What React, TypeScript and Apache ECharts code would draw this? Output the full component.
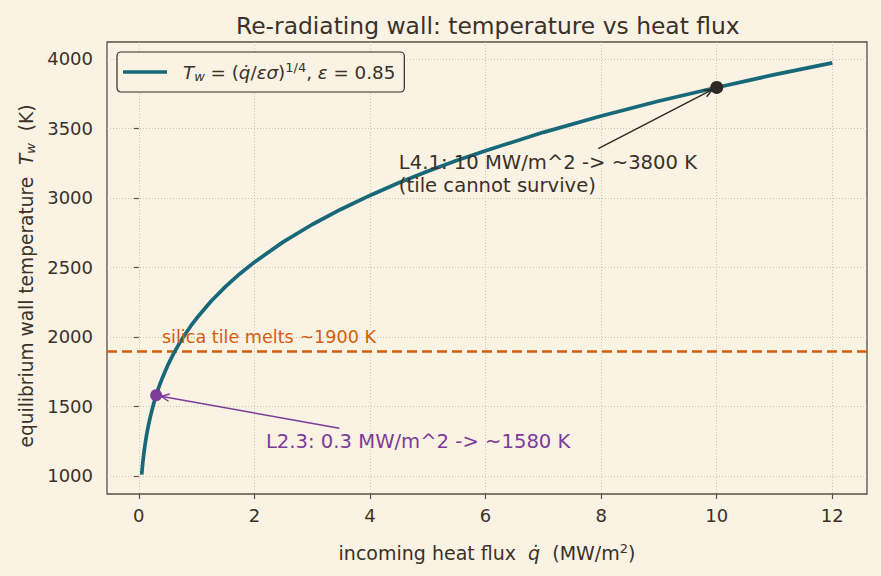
import React, { useEffect, useRef } from "react";
import * as echarts from "echarts";

// heat flux (MW/m^2) and equilibrium wall temperature (K)
const fluxMW = [0.05, 0.06, 0.07, 0.08, 0.09, 0.1, 0.12, 0.14, 0.17, 0.2, 0.25, 0.3, 0.35, 0.4, 0.5, 0.6, 0.7, 0.8, 0.9, 1, 1.25, 1.5, 1.75, 2, 2.5, 3, 3.5, 4, 4.5, 5, 5.5, 6, 7, 8, 9, 10, 11, 12];
const wallTempK = [1009, 1056, 1098, 1135, 1169, 1200, 1256, 1306, 1370, 1427, 1509, 1580, 1642, 1697, 1795, 1878, 1952, 2018, 2079, 2134, 2257, 2362, 2455, 2538, 2684, 2809, 2919, 3018, 3109, 3192, 3269, 3340, 3472, 3589, 3697, 3795, 3887, 3972];

const xTicks = [0, 2, 4, 6, 8, 10, 12];
const yTicks = [1000, 1500, 2000, 2500, 3000, 3500, 4000];

const meltTemp = 1900;
const meltLabel = "silica tile melts ~1900 K";
const meltLabelAt = [0.4, 2000];

const lowPoint = [0.3, 1580];
const lowText = "L2.3: 0.3 MW/m^2 -> ~1580 K";
const lowTextAt = [2.2, 1250];
const lowArrowTail = [3.47, 1343];

const highPoint = [10, 3795];
const highText = "L4.1: 10 MW/m^2 -> ~3800 K\n(tile cannot survive)";
const highTextAt = [4.5, 3172];
const highArrowTail = [7.95, 3355];

const BG = "#faf2e3";
const INK = "#3a3129";
const SPINE = "#5a5045";
const TEAL = "#17697a";
const ORANGE = "#d55e0c";
const PURPLE = "#7d3c98";
const DARK = "#2e2924";
const FONT = "DejaVu Sans";

export default function App() {
  const ref = useRef<HTMLDivElement>(null);
  useEffect(() => {
    const chart = echarts.init(ref.current!, null, { renderer: "svg" });
    const option: any = {
      animation: false,
      backgroundColor: BG,
      textStyle: { fontFamily: FONT, color: INK },
      title: {
        text: "Re-radiating wall: temperature vs heat flux",
        left: 231,
        top: 9,
        textStyle: { fontFamily: FONT, fontSize: 23.4, fontWeight: "normal", color: INK },
      },
      grid: { left: 107, right: 14, top: 42, bottom: 82, show: true, borderColor: SPINE, borderWidth: 1.3, backgroundColor: BG },
      legend: {
        left: 117,
        top: 52,
        padding: [9, 9, 9, 6],
        itemGap: 0,
        itemWidth: 44,
        itemHeight: 14,
        backgroundColor: BG,
        borderColor: DARK,
        borderWidth: 1.2,
        borderRadius: 4,
        data: [{ name: "curve", icon: "path://M0,5.2 L44,5.2 L44,8.9 L0,8.9 Z" }],
        formatter: () => "{i|T}{s|w}{n| = (}{i|q̇}{n|/}{i|εσ}{n|)}{sup|1/4}{n|, }{i|ε}{n| = 0.85}",
        textStyle: {
          fontFamily: FONT,
          fontSize: 18.3,
          color: INK,
          padding: [0, 0, 0, 11],
          rich: {
            i: { fontFamily: FONT, fontStyle: "italic", fontSize: 18.3, color: INK },
            n: { fontFamily: FONT, fontSize: 18.3, color: INK },
            s: { fontFamily: FONT, fontStyle: "italic", fontSize: 13, color: INK, padding: [9, 0, 0, 0] },
            sup: { fontFamily: FONT, fontSize: 13, color: INK, padding: [0, 0, 9, 0] },
          },
        },
      },
      xAxis: {
        type: "value",
        min: -0.55,
        max: 12.6,
        name: "incoming heat flux  {i|q̇}  (MW/m{sup|2})",
        nameLocation: "middle",
        nameGap: 48,
        nameTextStyle: {
          fontFamily: FONT,
          fontSize: 19,
          color: INK,
          rich: {
            i: { fontFamily: FONT, fontStyle: "italic", fontSize: 19, color: INK },
            sup: { fontFamily: FONT, fontSize: 13, color: INK, padding: [0, 0, 9, 0] },
          },
        },
        axisLine: { show: false },
        axisTick: { show: true, length: 5, customValues: xTicks, lineStyle: { color: SPINE, width: 1.2 } },
        axisLabel: { customValues: xTicks, margin: 12, fontFamily: FONT, fontSize: 18, color: INK, formatter: (v: number) => String(v) },
        splitLine: { show: true, lineStyle: { color: "#c2b9a8", type: [1, 2], width: 0.8 } },
      },
      yAxis: {
        type: "value",
        min: 870,
        max: 4122,
        axisLine: { show: false },
        axisTick: { show: true, length: 5, customValues: yTicks, lineStyle: { color: SPINE, width: 1.2 } },
        axisLabel: { customValues: yTicks, margin: 14, fontFamily: FONT, fontSize: 18, color: INK, formatter: (v: number) => String(v) },
        splitLine: { show: true, lineStyle: { color: "#c2b9a8", type: [1, 2], width: 0.8 } },
      },
      series: [
        {
          name: "curve",
          type: "line",
          data: fluxMW.map((x, i) => [x, wallTempK[i]]),
          smooth: false,
          showSymbol: false,
          symbol: "none",
          lineStyle: { color: TEAL, width: 3.7, join: "round" },
          itemStyle: { color: TEAL },
          z: 3,
          markLine: {
            silent: true,
            symbol: ["none", "none"],
            label: { show: false },
            lineStyle: { color: ORANGE, width: 2.7, type: [10, 5] },
            data: [{ yAxis: meltTemp }],
            z: 2,
          },
        },
        {
          name: "low",
          type: "scatter",
          data: [lowPoint],
          symbolSize: 12,
          itemStyle: { color: PURPLE, opacity: 1 },
          z: 5,
        },
        {
          name: "high",
          type: "scatter",
          data: [highPoint],
          symbolSize: 13,
          itemStyle: { color: DARK, opacity: 1 },
          z: 5,
        },
      ],
    };
    chart.setOption(option);

    const px = (p: number[]) => chart.convertToPixel({ gridIndex: 0 }, p) as number[];
    const arrow = (tail: number[], head: number[], color: string) => {
      const t = px(tail);
      const h0 = px(head);
      const dx = h0[0] - t[0];
      const dy = h0[1] - t[1];
      const len = Math.sqrt(dx * dx + dy * dy);
      const ux = dx / len;
      const uy = dy / len;
      const h = [h0[0] - ux * 5, h0[1] - uy * 5];
      const ang = Math.atan2(uy, ux);
      const a = 0.42;
      const L = 9;
      const p1 = [h[0] - L * Math.cos(ang - a), h[1] - L * Math.sin(ang - a)];
      const p2 = [h[0] - L * Math.cos(ang + a), h[1] - L * Math.sin(ang + a)];
      return [
        { type: "line", shape: { x1: t[0], y1: t[1], x2: h[0], y2: h[1] }, style: { stroke: color, lineWidth: 1.4 }, z: 10 },
        { type: "polyline", shape: { points: [p1, h, p2] }, style: { stroke: color, lineWidth: 1.4, fill: null }, z: 10 },
      ];
    };
    const mp = px(meltLabelAt);
    const lp = px(lowTextAt);
    const hp = px(highTextAt);
    chart.setOption({
      graphic: [
        ...arrow(highArrowTail, highPoint, DARK),
        ...arrow(lowArrowTail, lowPoint, PURPLE),
        {
          type: "text",
          x: 26,
          y: 276,
          rotation: Math.PI / 2,
          z: 10,
          style: {
            text: "{n|equilibrium wall temperature  }{i|T}{s|w}{n|  (K)}",
            textAlign: "center",
            textVerticalAlign: "middle",
            rich: {
              n: { fontFamily: FONT, fontSize: 18.6, fill: INK },
              i: { fontFamily: FONT, fontStyle: "italic", fontSize: 18.6, fill: INK },
              s: { fontFamily: FONT, fontStyle: "italic", fontSize: 13, fill: INK, padding: [9, 0, 0, 0] },
            },
          },
        },
        {
          type: "text",
          x: mp[0],
          y: mp[1],
          z: 10,
          style: { text: meltLabel, fill: ORANGE, font: `17.6px "${FONT}"`, textAlign: "left", textVerticalAlign: "middle" },
        },
        {
          type: "text",
          x: lp[0],
          y: lp[1],
          z: 10,
          style: { text: lowText, fill: PURPLE, font: `19.6px "${FONT}"`, textAlign: "left", textVerticalAlign: "middle" },
        },
        {
          type: "text",
          x: hp[0],
          y: hp[1],
          z: 10,
          style: { text: highText, fill: INK, font: `19.6px "${FONT}"`, lineHeight: 23, textAlign: "left", textVerticalAlign: "middle" },
        },
      ],
    });
    return () => chart.dispose();
  }, []);
  return <div ref={ref} style={{ width: 881, height: 576, position: "absolute", left: 0, top: 0 }} />;
}
